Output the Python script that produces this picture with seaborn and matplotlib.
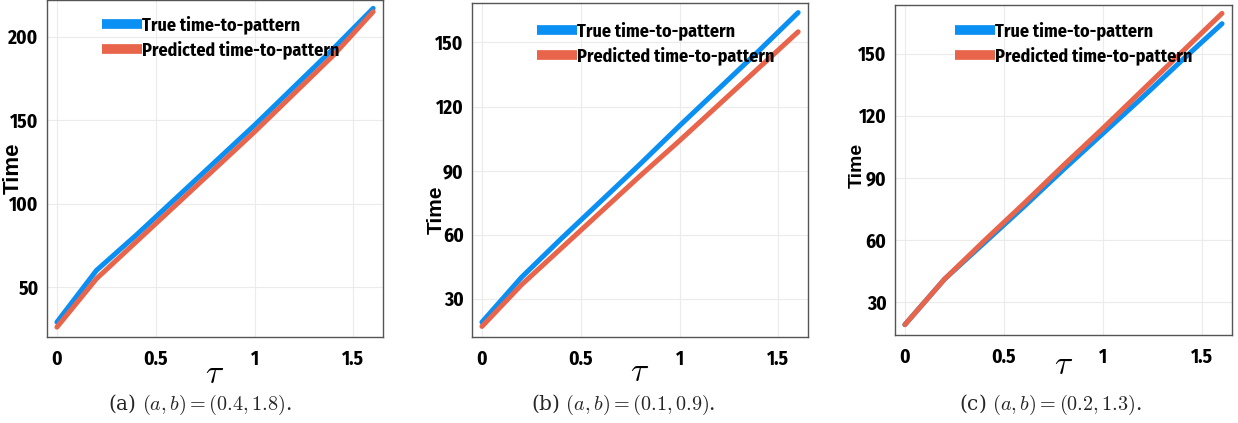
"""Time-to-pattern vs tau: true vs predicted, three (a, b) settings."""

import matplotlib
matplotlib.use("Agg")
import matplotlib.pyplot as plt
import numpy as np
import pandas as pd
import seaborn as sns

# ---- data ----
tau = [0.0, 0.2, 0.4, 0.6, 0.8, 1.0, 1.2, 1.4, 1.6]

true_a = [29, 60, 81, 103, 125, 147, 170, 193, 217]
pred_a = [26, 55, 77, 99, 121, 143, 166, 189, 215]

true_b = [19, 40, 58, 75.5, 93, 111, 128.5, 146, 164]
pred_b = [17, 36.5, 53.5, 70.5, 87.5, 104, 121, 138, 155]

true_c = [19, 41, 58.5, 76, 94, 111.5, 129, 147, 164.5]
pred_c = [19, 41, 59.5, 77.5, 96, 114, 132.5, 151, 169.5]

series_names = ["True time-to-pattern", "Predicted time-to-pattern"]
captions = ["(a) $(a, b) = (0.4, 1.8)$.",
            "(b) $(a, b) = (0.1, 0.9)$.",
            "(c) $(a, b) = (0.2, 1.3)$."]
y_ticks = [[50, 100, 150, 200], [30, 60, 90, 120, 150], [30, 60, 90, 120, 150]]
y_lims = [(20, 222), (12, 168.5), (14, 173.5)]

COLORS = {"True time-to-pattern": "#0a8ff2", "Predicted time-to-pattern": "#e8644a"}
NARROW = ["Fira Sans Condensed", "Liberation Sans", "DejaVu Sans"]

sns.set_theme(style="whitegrid")
plt.rcParams["mathtext.fontset"] = "cm"
plt.rcParams["font.family"] = NARROW


def make_df(true_vals, pred_vals):
    rows = []
    for name, vals in zip(series_names, [true_vals, pred_vals]):
        for t, v in zip(tau, vals):
            rows.append({"tau": t, "time": v, "series": name})
    return pd.DataFrame(rows)


panels = [make_df(true_a, pred_a), make_df(true_b, pred_b), make_df(true_c, pred_c)]

# axes rectangles in figure fractions (left, bottom, width, height)
rects = [(0.038, 0.203, 0.2714, 0.797),
         (0.3813, 0.203, 0.2714, 0.790),
         (0.7229, 0.208, 0.2722, 0.780)]
legend_anchor = [(0.164, 0.955), (0.193, 0.946), (0.178, 0.952)]
ylabel_pos = [(-0.068, 0.50), (-0.078, 0.38), (-0.088, 0.515)]
ylabel_size = [16, 15, 14]
xlabel_y = [-0.062, -0.054, -0.04]
caption_x = [200, 623, 1050]

fig = plt.figure(figsize=(12.38, 4.23), dpi=100)

for i, df in enumerate(panels):
    ax = fig.add_axes(rects[i])
    sns.lineplot(data=df, x="tau", y="time", hue="series", palette=COLORS,
                 linewidth=3.6, ax=ax, legend=True)

    ax.set_xlim(-0.05, 1.65)
    ax.set_ylim(*y_lims[i])
    ax.set_xticks([0, 0.5, 1, 1.5])
    ax.set_xticklabels(["0", "0.5", "1", "1.5"])
    ax.set_yticks(y_ticks[i])
    ax.tick_params(axis="both", which="major", length=3, width=0.8, color="#444444",
                   pad=3, labelsize=14, labelcolor="black", direction="out")
    for lbl in ax.get_xticklabels() + ax.get_yticklabels():
        lbl.set_fontweight("bold")
    ax.tick_params(axis="x", pad=6)

    ax.grid(True, color="#ebebeb", linewidth=0.8)
    for sp in ax.spines.values():
        sp.set_visible(True)
        sp.set_color("#555555")
        sp.set_linewidth(1.0)

    ax.set_ylabel("Time", fontsize=ylabel_size[i], fontweight="bold", color="black",
                  family=["Liberation Sans", "DejaVu Sans"])
    ax.yaxis.set_label_coords(*ylabel_pos[i])
    ax.set_xlabel(r"$\tau$", fontsize=24, color="black")
    ax.xaxis.set_label_coords(0.5, xlabel_y[i])

    leg = ax.legend(loc="upper left", bbox_to_anchor=legend_anchor[i], frameon=False,
                    borderaxespad=0, borderpad=0, handlelength=2.2, handletextpad=0.0,
                    labelspacing=0.35, prop={"family": NARROW, "weight": "bold", "size": 13})
    for h in leg.get_lines():
        h.set_linewidth(7)
        h.set_solid_capstyle("butt")
    for t in leg.get_texts():
        t.set_color("black")

    fig.text(caption_x[i] / 1238, 1 - 405 / 423, captions[i], ha="center", va="center",
             fontsize=14.5, family="DejaVu Serif")

fig.savefig("out.png", dpi=100)
plt.close(fig)
